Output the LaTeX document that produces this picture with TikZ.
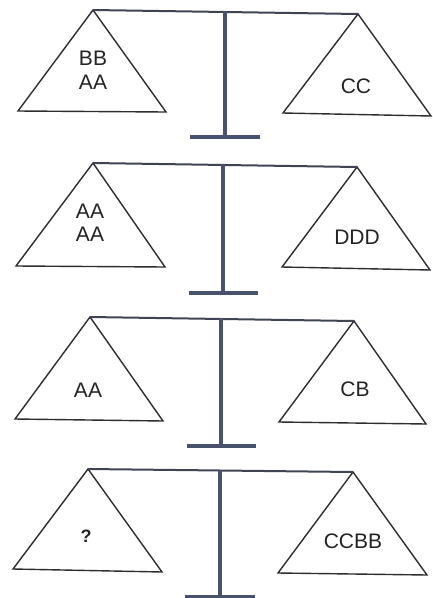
\documentclass[tikz,border=0pt]{standalone}
\usepackage{fontspec}
\setmainfont{Liberation Sans}
\definecolor{panc}{RGB}{45,45,50}
\definecolor{beamc}{RGB}{62,68,84}
\definecolor{postc}{RGB}{72,82,108}
\definecolor{txtc}{RGB}{35,35,35}
\begin{document}
\begin{tikzpicture}[x=1pt,y=-1pt,
  pan/.style={draw=panc, line width=1.4pt, line join=miter},
  beam/.style={draw=beamc, line width=2pt},
  post/.style={draw=postc, line width=4pt},
  lbl/.style={font=\fontsize{21}{24}\selectfont, text=txtc, inner sep=0pt}]
\clip (0,0) rectangle (433,598);
\fill[white] (0,0) rectangle (433,598);
% ---------- scale 1 ----------
\coordinate (a1) at (93,10); \coordinate (b1) at (358,14);
\coordinate (p1t) at (225,11); \coordinate (p1b) at (225,137);
\coordinate (f1l) at (190,137); \coordinate (f1r) at (260,137);
\draw[pan] (a1) -- (18,111) -- (166,112) -- cycle;
\draw[pan] (b1) -- (283,113) -- (431,116) -- cycle;
\draw[beam] (a1) -- (b1);
\draw[post] (p1t) -- (p1b);
\draw[post] (f1l) -- (f1r);
\node[lbl] (t1a) at (93,58) {BB};
\node[lbl] (t1b) at (93,82) {AA};
\node[lbl] (t1c) at (356,86) {CC};
% ---------- scale 2 ----------
\coordinate (a2) at (93,163); \coordinate (b2) at (357,167);
\coordinate (p2t) at (223,164); \coordinate (p2b) at (223,293);
\coordinate (f2l) at (189,293); \coordinate (f2r) at (258,293);
\draw[pan] (a2) -- (16,266) -- (165,267) -- cycle;
\draw[pan] (b2) -- (282,267) -- (430,270) -- cycle;
\draw[beam] (a2) -- (b2);
\draw[post] (p2t) -- (p2b);
\draw[post] (f2l) -- (f2r);
\node[lbl] (t2a) at (90,211) {AA};
\node[lbl] (t2b) at (90,234) {AA};
\node[lbl] (t2c) at (357,237) {DDD};
% ---------- scale 3 ----------
\coordinate (a3) at (90,317); \coordinate (b3) at (354,321);
\coordinate (p3t) at (221,318); \coordinate (p3b) at (221,446);
\coordinate (f3l) at (187,446); \coordinate (f3r) at (256,446);
\draw[pan] (a3) -- (15,419) -- (163,421) -- cycle;
\draw[pan] (b3) -- (279,422) -- (426,424) -- cycle;
\draw[beam] (a3) -- (b3);
\draw[post] (p3t) -- (p3b);
\draw[post] (f3l) -- (f3r);
\node[lbl] (t3a) at (88,390) {AA};
\node[lbl] (t3c) at (355,389) {CB};
% ---------- scale 4 ----------
\coordinate (a4) at (88,469); \coordinate (b4) at (353,472);
\coordinate (p4t) at (220,470); \coordinate (p4b) at (220,597);
\coordinate (f4l) at (185,597); \coordinate (f4r) at (255,597);
\draw[pan] (a4) -- (13,569) -- (162,572) -- cycle;
\draw[pan] (b4) -- (278,573) -- (427,575) -- cycle;
\draw[beam] (a4) -- (b4);
\draw[post] (p4t) -- (p4b);
\draw[post] (f4l) -- (f4r);
\node[lbl, font=\bfseries\fontsize{18}{20}\selectfont] (t4a) at (86,536) {?};
\node[lbl] (t4c) at (353,541) {CCBB};
\end{tikzpicture}
\end{document}
